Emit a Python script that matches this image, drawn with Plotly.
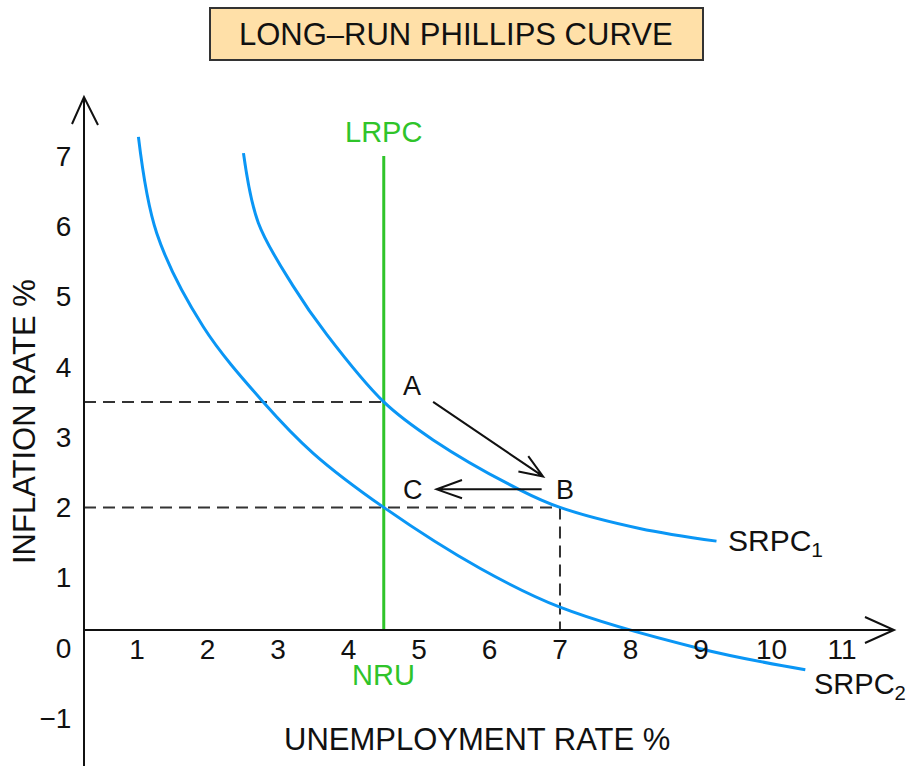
import plotly.graph_objects as go

W, H = 907, 766

# ---------------- data ----------------
x_ticks = [1, 2, 3, 4, 5, 6, 7, 8, 9, 10, 11]
y_ticks = [-1, 0, 1, 2, 3, 4, 5, 6, 7]
y_ticktext = ["−1", "0", "1", "2", "3", "4", "5", "6", "7"]

srpc1_x = [2.51, 2.72, 3.22, 3.69, 4.5, 5.2, 6.43, 7.0, 8.13, 9.22]
srpc1_y = [7.04, 6.05, 5.14, 4.46, 3.5, 2.96, 2.25, 2.0, 1.70, 1.52]

srpc2_x = [1.02, 1.28, 1.94, 2.79, 3.5, 4.5, 5.87, 7.0, 8.99, 10.48]
srpc2_y = [7.27, 5.90, 4.57, 3.50, 2.77, 2.0, 1.13, 0.58, -0.01, -0.31]

nru = 4.5
lrpc_top = 7.0
point_A = (4.5, 3.5)
point_B = (7.0, 2.0)
point_C = (4.5, 2.0)

# ---------------- layout constants ----------------
x_range = [0.248, 11.738]
y_range = [-1.679, 7.838]
axis_y = 0.256          # level at which the horizontal axis is drawn
x_domain = [84 / W, 894 / W]
y_domain = [0, 1 - 97 / H]
xaxis_pos = (axis_y - y_range[0]) / (y_range[1] - y_range[0]) * y_domain[1]

BLUE = "#0A96F5"
GREEN = "#2FC42A"
INK = "#111111"
DASH = "#333333"
FONT = "Liberation Sans"

fig = go.Figure()

# dashed guide lines
for gx, gy in [([x_range[0], point_A[0]], [point_A[1], point_A[1]]),
               ([x_range[0], point_B[0]], [point_B[1], point_B[1]]),
               ([point_B[0], point_B[0]], [point_B[1], axis_y])]:
    fig.add_trace(go.Scatter(x=gx, y=gy, mode="lines",
                             line=dict(color=DASH, width=2, dash="12px,7px"), hoverinfo="skip"))

# LRPC
fig.add_trace(go.Scatter(x=[nru, nru], y=[axis_y, lrpc_top], mode="lines",
                         line=dict(color=GREEN, width=3)))

# SRPC curves
fig.add_trace(go.Scatter(x=srpc1_x, y=srpc1_y, mode="lines",
                         line=dict(color=BLUE, width=3, shape="spline", smoothing=1.0)))
fig.add_trace(go.Scatter(x=srpc2_x, y=srpc2_y, mode="lines",
                         line=dict(color=BLUE, width=3, shape="spline", smoothing=1.0)))

shapes = []
# title box
shapes.append(dict(type="rect", xref="paper", yref="paper",
                   x0=210 / W, x1=703 / W, y0=1 - 60 / H, y1=1 - 8 / H,
                   fillcolor="#FFE0A8", line=dict(color="#333333", width=2), layer="below"))

# axis arrow heads (paper coords)
def P(px, py):
    return f"{px / W:.5f},{1 - py / H:.5f}"

shapes.append(dict(type="path", xref="paper", yref="paper",
                   path=f"M {P(72, 124)} L {P(84, 97)} L {P(98, 125)}",
                   line=dict(color=INK, width=2)))
shapes.append(dict(type="path", xref="paper", yref="paper",
                   path=f"M {P(865, 617)} L {P(894, 630)} L {P(865, 643)}",
                   line=dict(color=INK, width=2)))

# A -> B and B -> C arrows (data coords)
def D(x, y):
    return f"{x},{y}"

shapes.append(dict(type="path", xref="x", yref="y",
                   path=f"M {D(5.20, 3.50)} L {D(6.76, 2.44)} M {D(6.55, 2.73)} L {D(6.76, 2.44)} L {D(6.41, 2.51)}",
                   line=dict(color=INK, width=2)))
shapes.append(dict(type="path", xref="x", yref="y",
                   path=f"M {D(6.74, 2.257)} L {D(5.25, 2.257)} M {D(5.61, 2.39)} L {D(5.25, 2.257)} L {D(5.61, 2.13)}",
                   line=dict(color=INK, width=2)))

C = dict(xanchor="center", yanchor="middle", showarrow=False)
annotations = [
    dict(text="LONG–RUN PHILLIPS CURVE", xref="paper", yref="paper", x=456 / W, y=1 - 35 / H,
         font=dict(family=FONT, size=31, color=INK), **C),
    dict(text="UNEMPLOYMENT RATE %", xref="paper", yref="paper", x=477 / W, y=1 - 739 / H,
         font=dict(family=FONT, size=31, color=INK), **C),
    dict(text="INFLATION RATE %", xref="paper", yref="paper", x=24 / W, y=1 - 422 / H,
         textangle=-90, font=dict(family=FONT, size=31, color=INK), **C),
    dict(text="LRPC", x=nru, y=7.34, font=dict(family=FONT, size=29, color=GREEN), **C),
    dict(text="NRU", x=nru, y=-0.38, font=dict(family=FONT, size=29, color=GREEN), **C),
    dict(text="SRPC<sub>1</sub>", x=9.36, y=1.50, xanchor="left", yanchor="middle", showarrow=False,
         font=dict(family=FONT, size=30, color=INK)),
    dict(text="SRPC<sub>2</sub>", x=10.57, y=-0.54, xanchor="left", yanchor="middle", showarrow=False,
         font=dict(family=FONT, size=29, color=INK)),
    dict(text="A", x=4.90, y=3.72, font=dict(family=FONT, size=27, color=INK), **C),
    dict(text="B", x=7.07, y=2.25, font=dict(family=FONT, size=27, color=INK), **C),
    dict(text="C", x=4.92, y=2.25, font=dict(family=FONT, size=27, color=INK), **C),
]

fig.update_layout(
    width=W, height=H,
    margin=dict(l=0, r=0, t=0, b=0),
    paper_bgcolor="white", plot_bgcolor="white",
    showlegend=False,
    shapes=shapes,
    annotations=annotations,
    xaxis=dict(domain=x_domain, range=x_range, anchor="free", position=xaxis_pos,
               showgrid=False, zeroline=False, showline=True, linecolor=INK, linewidth=2,
               tickvals=x_ticks, ticktext=[str(v) for v in x_ticks], ticks="",
               ticklabelstandoff=-6,
               tickfont=dict(family=FONT, size=28, color=INK)),
    yaxis=dict(domain=y_domain, range=y_range, anchor="free", position=x_domain[0],
               showgrid=False, zeroline=False, showline=True, linecolor=INK, linewidth=2,
               tickvals=y_ticks, ticktext=y_ticktext, ticks="",
               ticklabelstandoff=6,
               tickfont=dict(family=FONT, size=28, color=INK)),
)

fig.write_html("out.html", config={"displayModeBar": False},
               post_script="document.body.style.margin='0px';document.body.style.overflow='hidden';")
